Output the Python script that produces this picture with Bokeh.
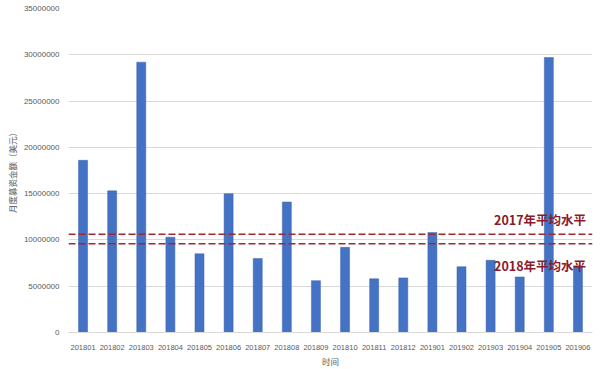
from bokeh.plotting import figure
from bokeh.models import ColumnDataSource, Span, Range1d, FactorRange, NumeralTickFormatter, FixedTicker
from bokeh.core.properties import value
from bokeh.embed import file_html
from bokeh.resources import INLINE

months = ["201801", "201802", "201803", "201804", "201805", "201806", "201807", "201808", "201809",
          "201810", "201811", "201812", "201901", "201902", "201903", "201904", "201905", "201906"]
amounts = [18600000, 15300000, 29200000, 10300000, 8500000, 15000000, 8000000, 14100000, 5600000,
           9200000, 5800000, 5900000, 10800000, 7100000, 7800000, 6000000, 29700000, 7200000]
avg_2017 = 10600000
avg_2018 = 9600000
avg_labels = ["2017年平均水平", "2018年平均水平"]
y_ticks = [0, 5000000, 10000000, 15000000, 20000000, 25000000, 30000000, 35000000]

FONT = "Noto Sans CJK SC"

src = ColumnDataSource(dict(x=months, top=amounts))

p = figure(width=600, height=369, x_range=FactorRange(*months), y_range=Range1d(0, 35000000),
           output_backend="svg", toolbar_location=None,
           min_border_left=68, min_border_right=8, min_border_top=8, min_border_bottom=37)
p.outline_line_color = None
p.background_fill_color = "white"

p.vbar(x="x", top="top", width=0.31, source=src, fill_color="#4472C4", line_color="#3B65B0", line_width=0.5)

p.xgrid.grid_line_color = None
p.ygrid.grid_line_color = "#D9D9D9"
p.ygrid.grid_line_width = 1

p.yaxis.ticker = FixedTicker(ticks=y_ticks)
p.yaxis.formatter = NumeralTickFormatter(format="0")
p.yaxis.axis_line_color = None
p.yaxis.major_tick_line_color = None
p.yaxis.minor_tick_line_color = None
p.yaxis.major_label_text_font_size = "8px"
p.yaxis.major_label_text_color = "#595959"
p.yaxis.major_label_standoff = 3
p.yaxis.axis_label = "月度募资金额（美元）"
p.yaxis.axis_label_text_font = FONT
p.yaxis.axis_label_text_font_size = "8.5px"
p.yaxis.axis_label_text_font_style = "normal"
p.yaxis.axis_label_text_color = "#595959"
p.yaxis.axis_label_standoff = 3

p.xaxis.axis_line_color = "#D9D9D9"
p.xaxis.major_tick_line_color = None
p.xaxis.minor_tick_line_color = None
p.xaxis.major_label_text_font_size = "7.5px"
p.xaxis.major_label_text_color = "#595959"
p.xaxis.major_label_standoff = 6
p.xaxis.axis_label = "时间"
p.xaxis.axis_label_text_font = FONT
p.xaxis.axis_label_text_font_size = "8.5px"
p.xaxis.axis_label_text_font_style = "normal"
p.xaxis.axis_label_text_color = "#595959"
p.xaxis.axis_label_standoff = 2

for v in (avg_2017, avg_2018):
    p.add_layout(Span(location=v, dimension="width", line_color="#A02630", line_dash="7 3", line_width=1.5))

p.text(x=[("201906", 0.28)], y=[avg_2017], text=[avg_labels[0]], text_align="right", text_baseline="bottom",
       y_offset=-5, text_font=value(FONT), text_font_size="12.5px", text_font_style="bold", text_color="#8B1A2B")
p.text(x=[("201906", 0.28)], y=[avg_2018], text=[avg_labels[1]], text_align="right", text_baseline="top",
       y_offset=12, text_font=value(FONT), text_font_size="12.5px", text_font_style="bold", text_color="#8B1A2B")

open("out.html", "w").write(file_html(p, INLINE))
